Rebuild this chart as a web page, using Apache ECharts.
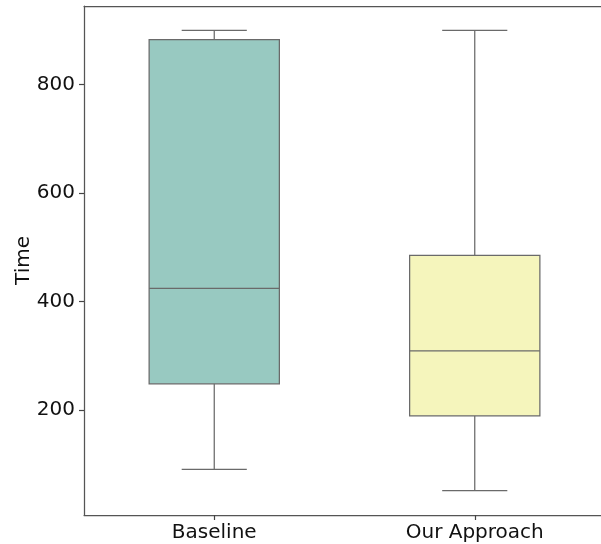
<!DOCTYPE html>
<html><head><meta charset="utf-8">
<script src="https://cdn.jsdelivr.net/npm/echarts@6/dist/echarts.min.js"></script>
<style>html,body{margin:0;padding:0;background:#fff}#c{width:601px;height:544px}</style>
</head><body><div id="c"></div>
<script>
const categories = ['Baseline', 'Our Approach'];
const whiskerLow = [90, 51];
const q1 = [248, 189];
const median = [424, 309];
const q3 = [883, 485];
const whiskerHigh = [900, 900];
const yTicks = [200, 400, 600, 800];
const fills = ['#98c9c1', '#f5f5bc'];

const data = categories.map((c, i) => [i, whiskerLow[i], q1[i], median[i], q3[i], whiskerHigh[i]]);
const edge = '#6a6a6a';
const spine = {color: '#555', width: 1.25};

const chart = echarts.init(document.getElementById('c'), null, {renderer: 'canvas'});
chart.setOption({
  animation: false,
  grid: {left: 84, right: -4, top: 6, bottom: 29, outerBoundsMode: 'none', containLabel: false, show: false},
  xAxis: [{
    type: 'category', data: categories,
    axisLine: {show: true, lineStyle: spine},
    axisTick: {show: true, alignWithLabel: true, length: 5, lineStyle: {color: '#444', width: 1.2}},
    axisLabel: {fontSize: 20, color: '#111', margin: 8, fontFamily: 'DejaVu Sans'},
    splitLine: {show: false}
  }, {
    type: 'category', data: categories, position: 'top',
    axisLine: {show: true, lineStyle: spine},
    axisTick: {show: false}, axisLabel: {show: false}, splitLine: {show: false}
  }],
  yAxis: {
    type: 'value', min: 6, max: 945,
    name: 'Time', nameLocation: 'middle', nameRotate: 90, nameGap: 50, nameMoveOverlap: false,
    nameTextStyle: {fontSize: 20, color: '#111', fontFamily: 'DejaVu Sans'},
    axisLine: {show: true, lineStyle: spine},
    axisTick: {show: true, length: 5, customValues: yTicks, lineStyle: {color: '#444', width: 1.2}},
    axisLabel: {fontSize: 20, color: '#111', margin: 9, customValues: yTicks, fontFamily: 'DejaVu Sans'},
    splitLine: {show: false}
  },
  series: [{
    type: 'custom',
    data: data,
    encode: {x: 0, y: [1, 2, 3, 4, 5]},
    renderItem: function (params, api) {
      const idx = api.value(0);
      const band = api.size([1, 0])[0];
      const bw = band * 0.5, cw = band * 0.25;
      const pLow = api.coord([idx, api.value(1)]);
      const pQ1 = api.coord([idx, api.value(2)]);
      const pMed = api.coord([idx, api.value(3)]);
      const pQ3 = api.coord([idx, api.value(4)]);
      const pHigh = api.coord([idx, api.value(5)]);
      const x = pQ1[0];
      const ls = {stroke: edge, lineWidth: 1.25};
      return {
        type: 'group',
        children: [
          {type: 'line', shape: {x1: x, y1: pQ1[1], x2: x, y2: pLow[1]}, style: ls},
          {type: 'line', shape: {x1: x, y1: pQ3[1], x2: x, y2: pHigh[1]}, style: ls},
          {type: 'line', shape: {x1: x - cw / 2, y1: pLow[1], x2: x + cw / 2, y2: pLow[1]}, style: ls},
          {type: 'line', shape: {x1: x - cw / 2, y1: pHigh[1], x2: x + cw / 2, y2: pHigh[1]}, style: ls},
          {type: 'rect', shape: {x: x - bw / 2, y: pQ3[1], width: bw, height: pQ1[1] - pQ3[1]},
            style: {fill: fills[params.dataIndex], stroke: edge, lineWidth: 1.25}},
          {type: 'line', shape: {x1: x - bw / 2, y1: pMed[1], x2: x + bw / 2, y2: pMed[1]}, style: ls}
        ]
      };
    }
  }]
});
</script></body></html>
